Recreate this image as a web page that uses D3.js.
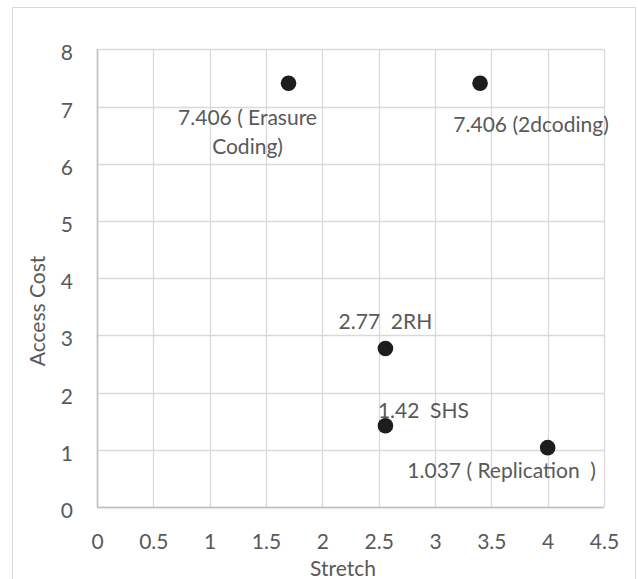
<!DOCTYPE html>
<html>
<head>
<meta charset="utf-8">
<script src="https://cdn.jsdelivr.net/npm/d3@7"></script>
<style>
  html, body { margin: 0; padding: 0; background: #fff; }
  svg { display: block; }
  text { font-family: Lato, "Open Sans", sans-serif; fill: #595959; }
</style>
</head>
<body>
<svg id="chart" width="638" height="579"></svg>
<script>
// ---- data ----
const stretch = [1.7, 3.4, 2.56, 2.56, 4.0];
const accessCost = [7.406, 7.406, 2.77, 1.42, 1.037];
const pointLabels = [
  ["7.406 ( Erasure", "Coding)"],
  ["7.406 (2dcoding)"],
  ["2.77  2RH"],
  ["1.42  SHS"],
  ["1.037 ( Replication  )"]
];
const xTicks = [0, 0.5, 1, 1.5, 2, 2.5, 3, 3.5, 4, 4.5];
const yTicks = [0, 1, 2, 3, 4, 5, 6, 7, 8];
const xTitle = "Stretch";
const yTitle = "Access Cost";

// ---- layout ----
const svg = d3.select("#chart");
const plot = { left: 97, right: 604, top: 49.3, bottom: 507 };
const x = d3.scaleLinear().domain([0, 4.5]).range([plot.left, plot.right]);
const y = d3.scaleLinear().domain([0, 8]).range([plot.bottom, plot.top]);
const fontSize = 21;

// outer border
svg.append("rect")
  .attr("x", 12.5).attr("y", 7.5).attr("width", 623).attr("height", 600)
  .attr("fill", "none").attr("stroke", "#d9d9d9").attr("stroke-width", 1);

// grid
svg.append("g").selectAll("line").data(yTicks).join("line")
  .attr("x1", plot.left).attr("x2", plot.right)
  .attr("y1", d => Math.round(y(d)) + 0.5).attr("y2", d => Math.round(y(d)) + 0.5)
  .attr("stroke", "#d9d9d9").attr("stroke-width", 1.3);
svg.append("g").selectAll("line").data(xTicks).join("line")
  .attr("y1", plot.top).attr("y2", plot.bottom)
  .attr("x1", d => Math.round(x(d)) + 0.5).attr("x2", d => Math.round(x(d)) + 0.5)
  .attr("stroke", "#d9d9d9").attr("stroke-width", 1.3);

// axis lines (left & bottom)
svg.append("line")
  .attr("x1", Math.round(x(0)) + 0.5).attr("x2", Math.round(x(0)) + 0.5)
  .attr("y1", plot.top).attr("y2", plot.bottom + 0.5)
  .attr("stroke", "#bfbfbf").attr("stroke-width", 1.5);
svg.append("line")
  .attr("x1", plot.left).attr("x2", plot.right)
  .attr("y1", Math.round(y(0)) + 0.5).attr("y2", Math.round(y(0)) + 0.5)
  .attr("stroke", "#bfbfbf").attr("stroke-width", 1.5);

// tick labels via d3 axes
const yAxis = d3.axisLeft(y).tickValues(yTicks).tickSize(0).tickPadding(24).tickFormat(d3.format("~g"));
const gy = svg.append("g").attr("transform", `translate(${plot.left},0)`).call(yAxis);
gy.select(".domain").remove();
gy.selectAll("text").attr("font-size", fontSize).attr("font-family", null).attr("fill", "#595959").attr("dy", "0.5em");

const xAxis = d3.axisBottom(x).tickValues(xTicks).tickSize(0).tickPadding(0).tickFormat(d3.format("~g"));
const gx = svg.append("g").attr("transform", `translate(0,${plot.bottom})`).call(xAxis);
gx.select(".domain").remove();
gx.selectAll("text").attr("font-size", fontSize).attr("font-family", null).attr("fill", "#595959").attr("dy", null).attr("y", 42);

// axis titles
svg.append("text").attr("x", 343).attr("y", 576).attr("text-anchor", "middle")
  .attr("font-size", fontSize).text(xTitle);
svg.append("text").attr("transform", "translate(45,311) rotate(-90)").attr("text-anchor", "middle")
  .attr("font-size", fontSize).text(yTitle);

// points
const pts = stretch.map((s, i) => ({ s, c: accessCost[i], label: pointLabels[i] }));
svg.append("g").selectAll("circle").data(pts).join("circle")
  .attr("cx", d => x(d.s)).attr("cy", d => y(d.c)).attr("r", 7.8)
  .attr("fill", "#1e1c1d");

// labels (offsets from point)
const labelOffsets = [[-41, 42], [51, 49], [0, -19.5], [38, -8], [-46, 30]];
const lineHeight = 29;
const lg = svg.append("g");
pts.forEach((d, i) => {
  const t = lg.append("text").attr("text-anchor", "middle").attr("font-size", fontSize)
    .attr("xml:space", "preserve").style("white-space", "pre");
  d.label.forEach((line, j) => {
    t.append("tspan").attr("x", x(d.s) + labelOffsets[i][0])
      .attr("y", y(d.c) + labelOffsets[i][1] + j * lineHeight)
      .text(line);
  });
});
</script>
</body>
</html>
